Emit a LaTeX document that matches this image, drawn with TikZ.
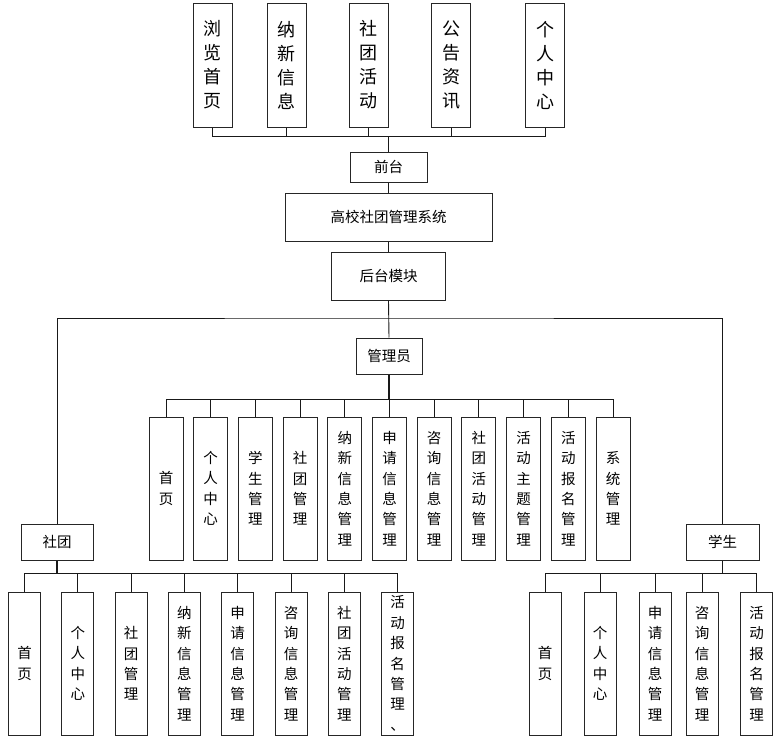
\documentclass[tikz,border=0pt]{standalone}
\usepackage{fontspec}
\setmainfont{Noto Sans CJK SC}
\begin{document}
\begin{tikzpicture}[x=1pt,y=-1pt,
  box/.style={draw=black!85, line width=1pt, fill=white, inner sep=0pt, align=center, font=\fontsize{14.5}{20.4}\selectfont},
  tall/.style={box, minimum width=34pt, minimum height=143pt},
  narrow/.style={box, minimum width=32pt, minimum height=143pt},
  topbox/.style={box, minimum width=39pt, minimum height=124pt, font=\fontsize{18}{24}\selectfont},
  link/.style={draw=black!90, line width=0.9pt}]
\useasboundingbox (0,0) rectangle (780,744);

% top row
\node[topbox] (t1) at (212.5,65) {浏\\览\\首\\页};
\node[topbox] (t2) at (286.5,65) {纳\\新\\信\\息};
\node[topbox] (t3) at (368.5,65) {社\\团\\活\\动};
\node[topbox] (t4) at (451,65) {公\\告\\资\\讯};
\node[topbox] (t5) at (545,65) {个\\人\\中\\心};

\node[box, minimum width=77pt, minimum height=30pt] (qt) at (388.5,167) {前台};
\node[box, minimum width=207pt, minimum height=48pt] (sys) at (388.5,217) {高校社团管理系统};
\node[box, minimum width=114pt, minimum height=48pt] (ht) at (388.5,276) {后台模块};
\node[box, minimum width=66pt, minimum height=36pt] (gly) at (389,356) {管理员};
\node[box, minimum width=72pt, minimum height=36pt] (st) at (57,542) {社团};
\node[box, minimum width=73pt, minimum height=36pt] (xs) at (722.5,542) {学生};

\coordinate (tbus) at (388.5,136);
\foreach \n in {t1,t2,t3,t4,t5} \draw[link] (\n.south) |- (tbus);
\draw[link] (tbus) -- (qt.north);
\draw[link] (qt.south) -- (sys.north);
\draw[link] (sys.south) -- (ht.north);
\coordinate (split) at (388.5,318);
\draw[link] (ht.south) -- (gly.north);
\draw[link] (st.north) |- (split) -| (xs.north);

% admin children
\coordinate (abus) at (389,399);
\foreach \t [count=\i from 0] in {{首\\页},{个\\人\\中\\心},{学\\生\\管\\理},{社\\团\\管\\理},{纳\\新\\信\\息\\管\\理},{申\\请\\信\\息\\管\\理},{咨\\询\\信\\息\\管\\理},{社\\团\\活\\动\\管\\理},{活\\动\\主\\题\\管\\理},{活\\动\\报\\名\\管\\理},{系\\统\\管\\理}}{
  \node[tall] (a\i) at ({166+44.7*\i},488.5) {\t};
  \draw[link] (a\i.north) -- (a\i.north |- abus);
}
\draw[link] (a0.north |- abus) -- (a10.north |- abus);
\draw[link, line width=1.3pt] (gly.south) -- (abus);

% club children
\coordinate (sbus) at (57,573);
\foreach \t [count=\i from 0] in {{首\\页},{个\\人\\中\\心},{社\\团\\管\\理},{纳\\新\\信\\息\\管\\理},{申\\请\\信\\息\\管\\理},{咨\\询\\信\\息\\管\\理},{社\\团\\活\\动\\管\\理},{活\\动\\报\\名\\管\\理\\、}}{
  \node[narrow] (s\i) at ({24.5+53.3*\i},663.5) {\t};
  \draw[link] (s\i.north) -- (s\i.north |- sbus);
}
\draw[link] (s0.north |- sbus) -- (s7.north |- sbus);
\draw[link, line width=1.3pt] (st.south) -- (sbus);

% student children
\coordinate (xbus) at (722.5,573);
\node[narrow] (x0) at (545,663.5) {首\\页};
\node[narrow] (x1) at (600,663.5) {个\\人\\中\\心};
\node[narrow] (x2) at (655,663.5) {申\\请\\信\\息\\管\\理};
\node[narrow] (x3) at (702,663.5) {咨\\询\\信\\息\\管\\理};
\node[narrow] (x4) at (756.5,663.5) {活\\动\\报\\名\\管\\理};
\foreach \i in {0,...,4} \draw[link] (x\i.north) -- (x\i.north |- xbus);
\draw[link] (x0.north |- xbus) -- (x4.north |- xbus);
\draw[link, line width=1.3pt] (xs.south) -- (xbus);
\end{tikzpicture}
\end{document}
